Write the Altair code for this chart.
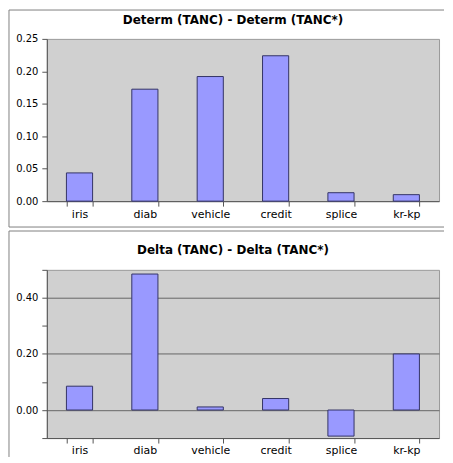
import altair as alt
import pandas as pd

categories = ["iris", "diab", "vehicle", "credit", "splice", "kr-kp"]
determ_diff = [0.0435, 0.1725, 0.192, 0.224, 0.013, 0.010]
delta_diff = [0.085, 0.485, 0.011, 0.041, -0.093, 0.200]
determ_ticks = [0.0, 0.05, 0.10, 0.15, 0.20, 0.25]
delta_ticks = [-0.1, 0.0, 0.1, 0.2, 0.3, 0.4, 0.5]
title_top = ["Determ (TANC) - Determ (TANC*)"]
title_bottom = ["Delta (TANC) - Delta (TANC*)"]

W = 394
H1 = 163
H2 = 169
FONT = "DejaVu Sans"
BAR_FILL = "#9999ff"
BAR_STROKE = "#333366"
WALL = "#d0d0d0"
FRAME = "#808080"

df1 = pd.DataFrame({"cat": categories, "v": determ_diff})
df2 = pd.DataFrame({"cat": categories, "v": delta_diff})
one = pd.DataFrame({"k": [0]})


def x_enc():
    return alt.X(
        "cat:N", sort=categories, title=None,
        scale=alt.Scale(paddingInner=0.6, paddingOuter=0.3),
        axis=alt.Axis(labelAngle=0, tickBand="extent", tickSize=5, labelPadding=2,
                      labelFontSize=11, labelColor="black", domainColor="#555555",
                      tickColor="#555555", labelFont=FONT),
    )


def frame(top, bottom, right, with_bottom=True):
    layers = [
        alt.Chart(one).mark_rule(color=FRAME, strokeWidth=1).encode(
            x=alt.value(-38), y=alt.value(top), y2=alt.value(bottom)),
        alt.Chart(one).mark_rule(color=FRAME, strokeWidth=1).encode(
            x=alt.value(-38), x2=alt.value(right), y=alt.value(top)),
    ]
    if with_bottom:
        layers.append(alt.Chart(one).mark_rule(color=FRAME, strokeWidth=1).encode(
            x=alt.value(-38), x2=alt.value(right), y=alt.value(bottom)))
    return layers


def title_mark(txt, ypos):
    return alt.Chart(pd.DataFrame({"t": txt})).mark_text(
        font=FONT, fontSize=12, fontWeight="bold", color="black",
        align="center", baseline="middle",
    ).encode(text="t:N", x=alt.value(W / 2 - 10), y=alt.value(ypos))


bars1 = alt.Chart(df1).mark_bar(fill=BAR_FILL, stroke=BAR_STROKE, strokeWidth=1).encode(
    x=x_enc(),
    y=alt.Y("v:Q", title=None,
            scale=alt.Scale(domain=[0, 0.25], nice=False, zero=True),
            axis=alt.Axis(values=determ_ticks, format=".2f", grid=False, tickSize=5,
                          labelPadding=4, labelFontSize=10, labelColor="black",
                          domainColor="#555555", tickColor="#555555", labelFont=FONT)),
)

top = alt.layer(*frame(-29, H1 + 26, W + 5), title_mark(title_top, -19), bars1).properties(
    width=W, height=H1,
)

show_test = "abs(datum.value) < 1e-6 || abs(datum.value - 0.2) < 1e-6 || abs(datum.value - 0.4) < 1e-6"

bars2 = alt.Chart(df2).mark_bar(fill=BAR_FILL, stroke=BAR_STROKE, strokeWidth=1).encode(
    x=x_enc(),
    y=alt.Y("v:Q", title=None,
            scale=alt.Scale(domain=[-0.1, 0.5], nice=False, zero=False),
            axis=alt.Axis(values=delta_ticks, tickSize=5, labelPadding=4,
                          labelExpr="(" + show_test + ") ? format(datum.value, '.2f') : ''",
                          grid=True, gridColor="#666666",
                          gridOpacity={"condition": {"test": show_test, "value": 1}, "value": 0},
                          labelFontSize=10, labelColor="black",
                          domainColor="#555555", tickColor="#555555", labelFont=FONT)),
)

bottom = alt.layer(*frame(-39, H2 + 19, W + 5, with_bottom=False),
                   title_mark(title_bottom, -20), bars2).properties(
    width=W, height=H2,
)

chart = alt.vconcat(top, bottom, spacing=2).properties(
    padding={"left": 0, "top": 0, "right": 0, "bottom": 0},
).configure(font=FONT).configure_view(
    fill=WALL, stroke="#999999", strokeWidth=1,
)

chart.save("out.html", embed_options={"renderer": "svg", "actions": False})
